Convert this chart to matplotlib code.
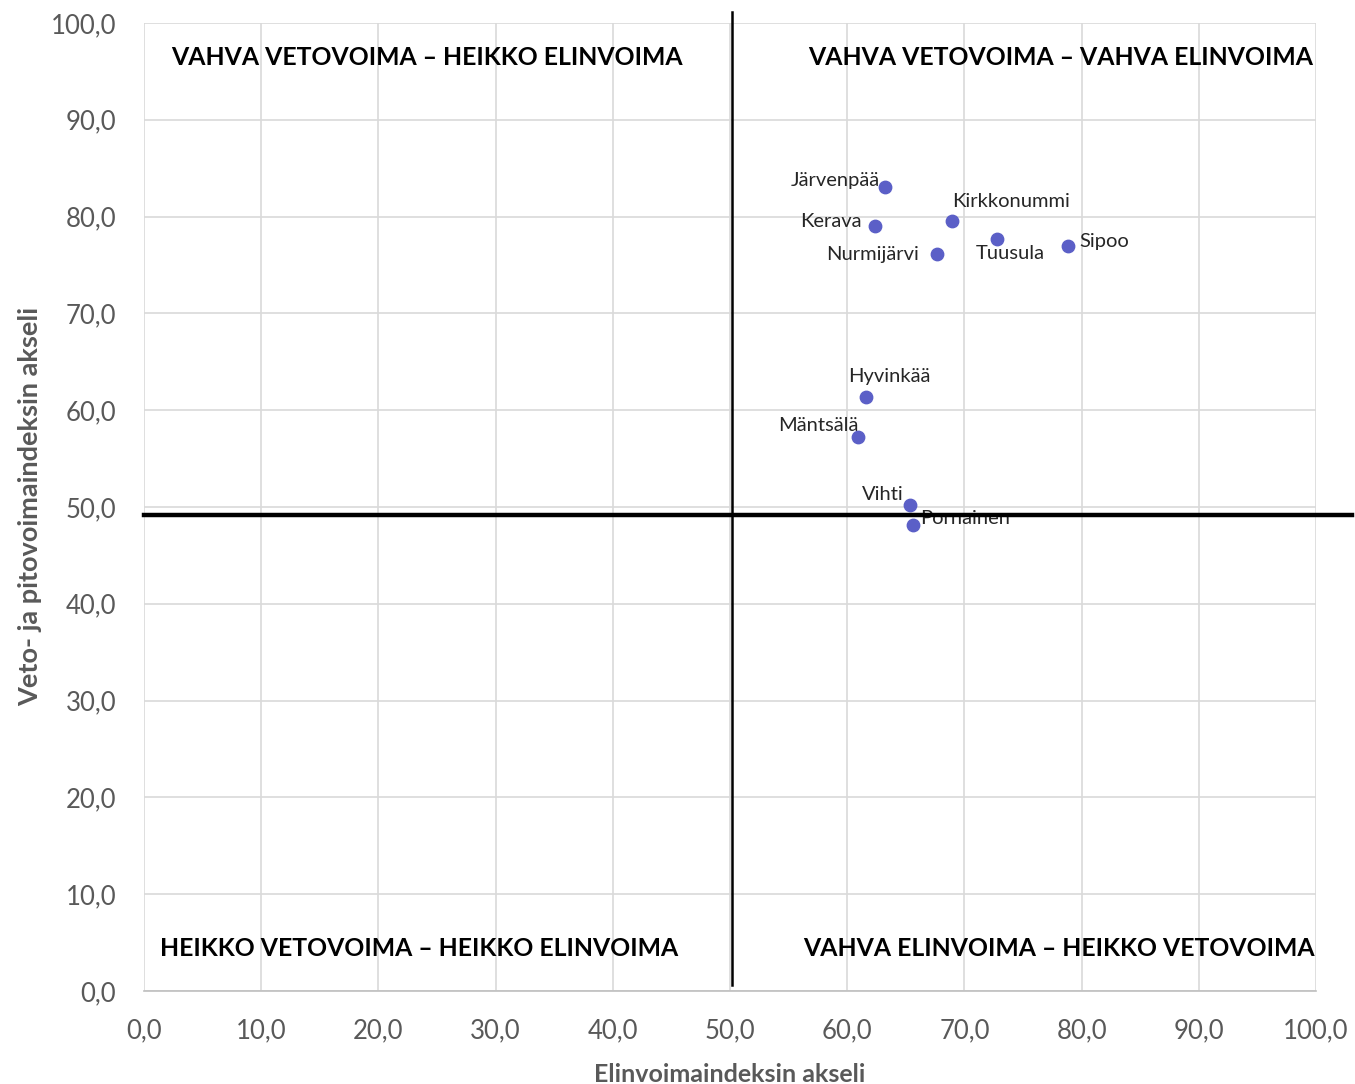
import matplotlib.pyplot as plt

# Kuntien sijainnit nelikentässä
kunnat = ['Järvenpää', 'Kerava', 'Kirkkonummi', 'Tuusula', 'Sipoo',
          'Nurmijärvi', 'Hyvinkää', 'Mäntsälä', 'Vihti', 'Pornainen']
elinvoima = [63.2, 62.4, 68.9, 72.8, 78.8, 67.7, 61.6, 60.9, 65.4, 65.6]
vetovoima = [83.1, 79.0, 79.5, 77.7, 77.0, 76.1, 61.4, 57.2, 50.2, 48.1]

# label offsets (pixels) and alignment
offsets = {
    'Järvenpää':   (-5, 6, 'right'),
    'Kerava':      (-14, 5, 'right'),
    'Kirkkonummi': (1, 20, 'left'),
    'Tuusula':     (-21, -15, 'left'),
    'Sipoo':       (12, 4, 'left'),
    'Nurmijärvi':  (-18, 0, 'right'),
    'Hyvinkää':    (-18, 20, 'left'),
    'Mäntsälä':    (1, 12, 'right'),
    'Vihti':       (-7, 11, 'right'),
    'Pornainen':   (7, 7, 'left'),
}

ticks = [0, 10, 20, 30, 40, 50, 60, 70, 80, 90, 100]
tick_labels = [f'{t:.1f}'.replace('.', ',') for t in ticks]

raja_x = 50.2
raja_y = 49.2

plt.rcParams['font.family'] = ['Lato', 'DejaVu Sans']

fig = plt.figure(figsize=(13.55, 10.84), dpi=100)
ax = fig.add_axes([0.1063, 0.0858, 0.8649, 0.893])

ax.set_xlim(0, 100)
ax.set_ylim(0, 100)
ax.set_xticks(ticks)
ax.set_yticks(ticks)
ax.set_xticklabels(tick_labels)
ax.set_yticklabels(tick_labels)
ax.tick_params(length=0, labelsize=18.5, colors='#595959')
ax.tick_params(axis='y', pad=20)
ax.tick_params(axis='x', pad=20)
ax.grid(True, color='#d9d9d9', linewidth=1.2)
ax.set_axisbelow(True)
for s in ['left', 'right', 'top']:
    ax.spines[s].set_visible(False)
ax.spines['bottom'].set_color('#bfbfbf')
ax.spines['bottom'].set_linewidth(1.2)

ax.set_xlabel('Elinvoimaindeksin akseli', fontsize=18, fontweight='bold',
              color='#595959', labelpad=14)
ax.set_ylabel('Veto- ja pitovoimaindeksin akseli', fontsize=19.5, fontweight='bold',
              color='#595959', labelpad=6)

# quadrant divider lines
ax.plot([0, 103.1], [raja_y, raja_y], color='black', linewidth=3.2,
        clip_on=False, zorder=5)
ax.plot([raja_x, raja_x], [0.6, 101.1], color='black', linewidth=1.8,
        clip_on=False, zorder=5)

ax.scatter(elinvoima, vetovoima, s=80, color='#5b5fc7', zorder=4)
for nimi, x, y in zip(kunnat, elinvoima, vetovoima):
    dx, dy, ha = offsets[nimi]
    ax.annotate(nimi, (x, y), xytext=(dx, dy), textcoords='offset pixels',
                ha=ha, va='center', fontsize=14.5, color='#262626', zorder=3)

# quadrant titles
qkw = dict(fontsize=17.8, fontweight='bold', color='black',
           ha='center', va='center')
ax.text(24.1, 96.4, 'VAHVA VETOVOIMA – HEIKKO ELINVOIMA', **qkw)
ax.text(78.2, 96.4, 'VAHVA VETOVOIMA – VAHVA ELINVOIMA', **qkw)
ax.text(23.5, 4.4, 'HEIKKO VETOVOIMA – HEIKKO ELINVOIMA', **qkw)
ax.text(78.1, 4.4, 'VAHVA ELINVOIMA – HEIKKO VETOVOIMA', **qkw)

fig.savefig('out.png', dpi=100, facecolor='white')
